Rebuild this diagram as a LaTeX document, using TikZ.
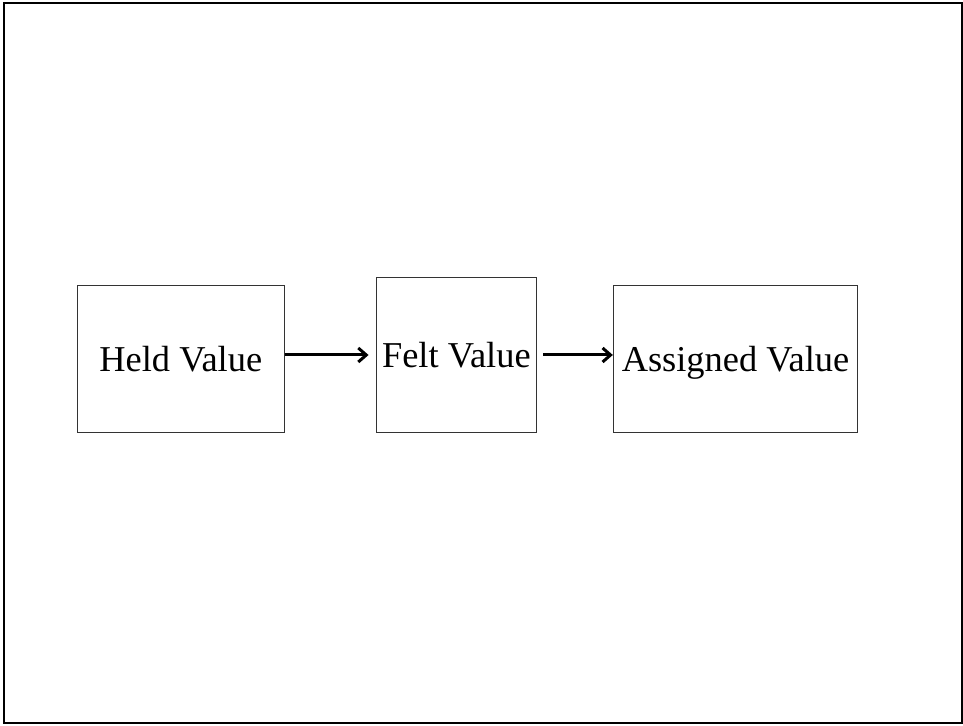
\documentclass[tikz,border=0pt]{standalone}
\usepackage{fontspec}
\setmainfont{Liberation Serif}
\usetikzlibrary{arrows.meta}
\begin{document}
\begin{tikzpicture}[x=1pt,y=1pt,
  valbox/.style={draw=black!80,line width=0.9pt,inner sep=0pt,
    font=\fontsize{36.4}{40}\selectfont,text depth=0pt},
  conn/.style={draw=black,line width=3pt,-{Straight Barb[length=8pt,width=14pt,line width=3pt]}}]
\useasboundingbox (0,0) rectangle (963,725);
\draw[line width=2pt] (4,2) rectangle (962,722);
\node[valbox,minimum width=207pt,minimum height=147.7pt] (held) at (180.8,366.15) {Held Value};
\node[valbox,minimum width=160.7pt,minimum height=155.4pt] (felt) at (456.35,370) {Felt Value};
\node[valbox,minimum width=244.4pt,minimum height=147.7pt] (assigned) at (735.5,366.15) {Assigned Value};
\draw[conn,shorten >=7pt] (held.east |- felt.west) -- (felt.west);
\draw[conn,shorten <=6pt] (felt.east) -- (assigned.west |- felt.east);
\end{tikzpicture}
\end{document}
